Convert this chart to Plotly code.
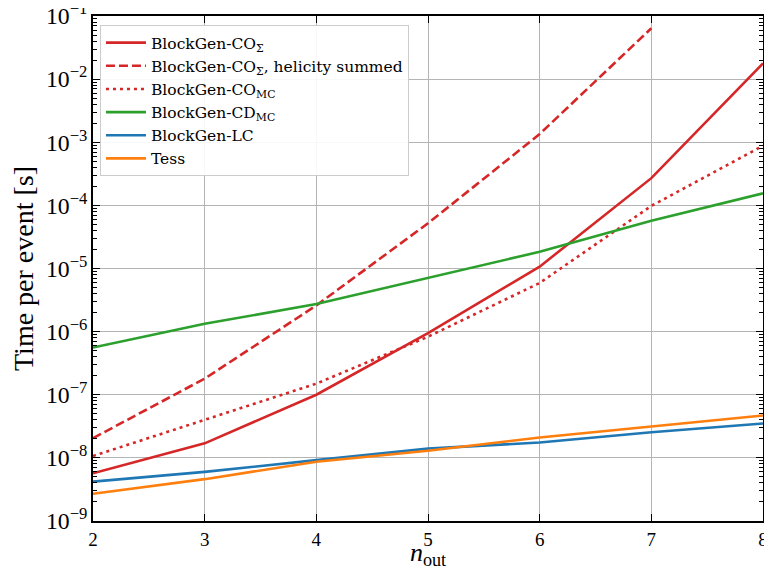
import plotly.graph_objects as go

n_out = [2, 3, 4, 5, 6, 7, 8]
co_sigma = [5.7e-9, 1.7e-8, 1.0e-7, 9.5e-7, 1.07e-5, 2.7e-4, 1.78e-2]
n_out_hel = [2, 3, 4, 5, 6, 7]
co_sigma_hel = [2.05e-8, 1.8e-7, 2.6e-6, 5.2e-5, 1.35e-3, 6.4e-2]
co_mc = [1.07e-8, 4.0e-8, 1.5e-7, 8.3e-7, 5.9e-6, 9.8e-5, 8.8e-4]
cd_mc = [5.6e-7, 1.33e-6, 2.73e-6, 7.0e-6, 1.84e-5, 5.7e-5, 1.55e-4]
lc = [4.2e-9, 6.0e-9, 9.2e-9, 1.4e-8, 1.75e-8, 2.55e-8, 3.5e-8]
tess = [2.7e-9, 4.6e-9, 8.7e-9, 1.3e-8, 2.1e-8, 3.1e-8, 4.7e-8]

RED, GREEN, BLUE, ORANGE = "#d62728", "#2ca02c", "#1f77b4", "#ff7f0e"
FONT = "Liberation Serif"
LEGFONT = "DejaVu Serif"
LW = 2.6

fig = go.Figure()
series = [
    ("BlockGen-CO<sub>Σ</sub>", n_out, co_sigma, RED, "solid"),
    ("BlockGen-CO<sub>Σ</sub>, helicity summed", n_out_hel, co_sigma_hel, RED, "9px,4px"),
    ("BlockGen-CO<sub>MC</sub>", n_out, co_mc, RED, "3px,4px"),
    ("BlockGen-CD<sub>MC</sub>", n_out, cd_mc, GREEN, "solid"),
    ("BlockGen-LC", n_out, lc, BLUE, "solid"),
    ("Tess", n_out, tess, ORANGE, "solid"),
]
for name, x, y, c, d in series:
    fig.add_trace(go.Scatter(x=x, y=y, name=name, mode="lines",
                             line=dict(color=c, width=LW, dash=d)))

axis_common = dict(
    showline=True, linecolor="black", linewidth=1.6, mirror="allticks",
    ticks="inside", tickcolor="black", tickwidth=1.3, ticklen=7,
    showgrid=True, gridcolor="#b4b4b4", gridwidth=1, zeroline=False,
    tickfont=dict(family=FONT, size=19, color="black"),
    automargin=False, ticklabeloverflow="allow",
)

fig.update_xaxes(**axis_common, range=[1.9999, 8.0001], dtick=1, tick0=2,
                 title=dict(text="<i>n</i><sub>out</sub>", font=dict(family=FONT, size=26, color="black"), standoff=0))
fig.update_yaxes(**axis_common, type="log", range=[-9.0001, -0.9999], dtick=1,
                 exponentformat="power",
                 minor=dict(ticks="inside", ticklen=4, tickwidth=1, tickcolor="black",
                            showgrid=False, dtick="D1"),
                 title=dict(text="Time per event [s]", font=dict(family=FONT, size=28, color="black"), standoff=6))

fig.update_layout(
    width=756, height=562,
    margin=dict(l=85, r=1, t=8, b=49),
    plot_bgcolor="white", paper_bgcolor="white",
    font=dict(family=FONT, color="black"),
    legend=dict(x=0.0104, y=0.982, xanchor="left", yanchor="top",
                bgcolor="rgba(255,255,255,0.9)", bordercolor="#cccccc", borderwidth=1,
                font=dict(family=LEGFONT, size=15.5, color="black"),
                tracegroupgap=0, itemwidth=40),
    showlegend=True,
)

fig.write_html("out.html")
